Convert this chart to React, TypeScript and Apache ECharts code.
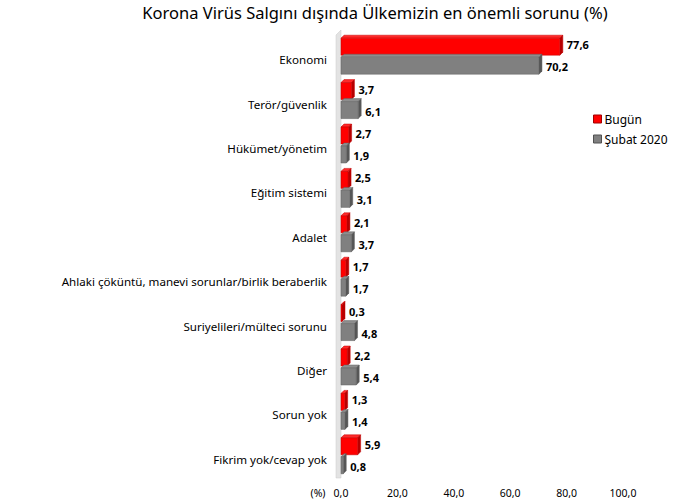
import React, { useEffect, useRef } from "react";
import * as echarts from "echarts";

const categories = [
  "Ekonomi",
  "Terör/güvenlik",
  "Hükümet/yönetim",
  "Eğitim sistemi",
  "Adalet",
  "Ahlaki çöküntü, manevi sorunlar/birlik beraberlik",
  "Suriyelileri/mülteci sorunu",
  "Diğer",
  "Sorun yok",
  "Fikrim yok/cevap yok",
];
const bugun = [77.6, 3.7, 2.7, 2.5, 2.1, 1.7, 0.3, 2.2, 1.3, 5.9];
const subat = [70.2, 6.1, 1.9, 3.1, 3.7, 1.7, 4.8, 5.4, 1.4, 0.8];
const seriesNames = ["Bugün", "Şubat 2020"];
const xTicks = { min: 0, max: 100, interval: 20 };

const FONT = "'Noto Sans', 'DejaVu Sans', sans-serif";

const palettes = [
  { front: "#ff0000", top: "#ff2a2a", side: "#b80000", stroke: "#c00000" },
  { front: "#808080", top: "#8e8e8e", side: "#565656", stroke: "#606060" },
];

const fmt = (v: number) => v.toFixed(1).replace(".", ",");

function makeRender(s: number) {
  const pal = palettes[s];
  return (params: any, api: any) => {
    const cat = api.value(0);
    const v = api.value(1);
    const p0 = api.coord([0, cat]);
    const p1 = api.coord([v, cat]);
    const c = p0[1];
    const x0 = p0[0];
    const x1 = Math.max(p1[0], x0 + 1);
    const d = 3;
    const h = 17;
    const top = s === 0 ? c - 17 : c + 2;
    const bot = top + h;
    return {
      type: "group",
      children: [
        {
          type: "polygon",
          shape: { points: [[x0, top], [x0 + d, top - d], [x1 + d, top - d], [x1, top]] },
          style: { fill: pal.top, stroke: pal.stroke, lineWidth: 0.5 },
        },
        {
          type: "polygon",
          shape: { points: [[x1, top], [x1 + d, top - d], [x1 + d, bot - d], [x1, bot]] },
          style: { fill: pal.side, stroke: pal.stroke, lineWidth: 0.5 },
        },
        {
          type: "rect",
          shape: { x: x0, y: top, width: x1 - x0, height: h },
          style: { fill: pal.front, stroke: pal.stroke, lineWidth: 0.5 },
        },
        {
          type: "text",
          x: x1 + 7,
          y: (top + bot) / 2 + (s === 0 ? -2 : 1),
          style: {
            text: fmt(v),
            fill: "#000",
            font: `bold 11px ${FONT}`,
            align: "left",
            verticalAlign: "middle",
          },
        },
      ],
    };
  };
}

export default function App() {
  const ref = useRef<HTMLDivElement>(null);
  useEffect(() => {
    document.body.style.margin = "0";
    const chart = echarts.init(ref.current!, undefined, { renderer: "svg" });
    chart.setOption({
      animation: false,
      backgroundColor: "#fff",
      textStyle: { fontFamily: FONT },
      grid: { left: 341, right: 64, top: 33, bottom: 27, containLabel: false },
      legend: {
        orient: "vertical",
        left: 588,
        top: 108,
        itemWidth: 8,
        itemHeight: 8,
        itemGap: 8,
        textStyle: { fontSize: 12, color: "#000", fontFamily: FONT, padding: [0, 0, 0, -2] },
        data: [
          { name: seriesNames[0], icon: "rect", itemStyle: { color: "#ff0000", borderColor: "#a00000", borderWidth: 1 } },
          { name: seriesNames[1], icon: "rect", itemStyle: { color: "#808080", borderColor: "#505050", borderWidth: 1 } },
        ],
      },
      xAxis: {
        type: "value",
        min: xTicks.min,
        max: xTicks.max,
        interval: xTicks.interval,
        axisLine: { show: false },
        axisTick: { show: false },
        splitLine: { show: false },
        axisLabel: { formatter: (v: number) => fmt(v), fontSize: 10.5, color: "#000", margin: 10 },
      },
      yAxis: {
        type: "category",
        inverse: true,
        data: categories,
        axisLine: { show: false },
        axisTick: { show: false },
        axisLabel: { fontSize: 11.6, color: "#000", margin: 14, verticalAlign: "top", lineHeight: 9 },
      },
      graphic: [
        {
          type: "text",
          x: 375,
          y: 12,
          style: {
            text: "Korona Virüs Salgını dışında Ülkemizin en önemli sorunu (%)",
            font: `16.5px ${FONT}`,
            fill: "#000",
            align: "center",
            verticalAlign: "middle",
          },
        },
        {
          type: "text",
          x: 318,
          y: 493,
          style: { text: "(%)", font: `10.5px ${FONT}`, fill: "#000", align: "center", verticalAlign: "middle" },
        },
        {
          type: "polygon",
          z: -1,
          shape: { points: [[336, 35], [341, 30], [341, 478], [336, 478]] },
          style: { fill: "#e3e3e3", stroke: "#c8c8c8", lineWidth: 0.5 },
        },
      ],
      series: [
        {
          type: "custom",
          name: seriesNames[0],
          itemStyle: { color: "#ff0000" },
          renderItem: makeRender(0),
          encode: { x: 1, y: 0 },
          data: bugun.map((v, i) => [i, v]),
        },
        {
          type: "custom",
          name: seriesNames[1],
          itemStyle: { color: "#808080" },
          renderItem: makeRender(1),
          encode: { x: 1, y: 0 },
          data: subat.map((v, i) => [i, v]),
        },
      ],
    });
    return () => chart.dispose();
  }, []);
  return <div ref={ref} style={{ width: 687, height: 504 }} />;
}
